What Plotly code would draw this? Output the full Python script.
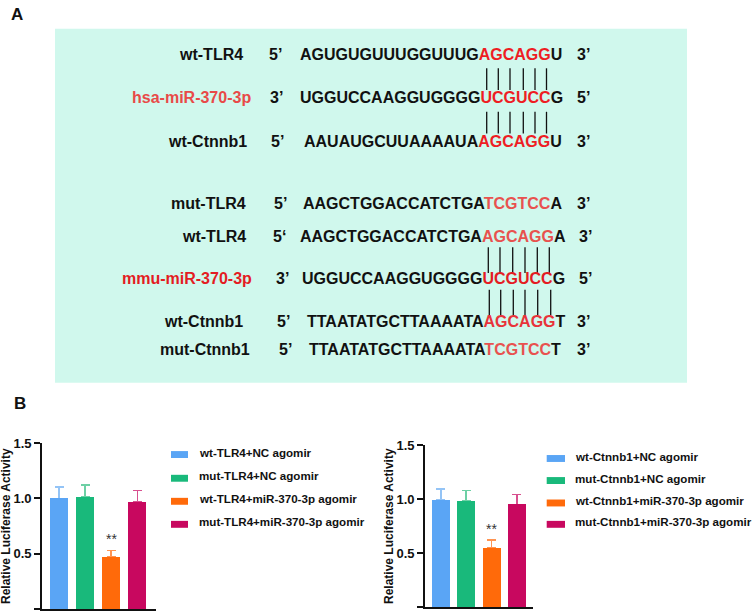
import plotly.graph_objects as go

W, H = 753, 614
FONT = "Arial, Liberation Sans, sans-serif"

# ---------------- data: panel B ----------------
tlr4_groups = ["wt-TLR4+NC agomir", "mut-TLR4+NC agomir",
               "wt-TLR4+miR-370-3p agomir", "mut-TLR4+miR-370-3p agomir"]
tlr4_mean = [1.00, 1.01, 0.47, 0.97]
tlr4_err = [0.10, 0.11, 0.06, 0.10]

ctnnb1_groups = ["wt-Ctnnb1+NC agomir", "mut-Ctnnb1+NC agomir",
                 "wt-Ctnnb1+miR-370-3p agomir", "mut-Ctnnb1+miR-370-3p agomir"]
ctnnb1_mean = [0.99, 0.98, 0.55, 0.95]
ctnnb1_err = [0.10, 0.10, 0.07, 0.09]

significance = ["", "", "**", ""]
y_ticks = [0, 0.5, 1.0, 1.5]
y_ticklabels = ["0.0", "0.5", "1.0", "1.5"]
y_title = "Relative Luciferase Activity"

# ---------------- data: panel A ----------------
row_labels = ["wt-TLR4", "hsa-miR-370-3p", "wt-Ctnnb1",
              "mut-TLR4", "wt-TLR4", "mmu-miR-370-3p", "wt-Ctnnb1", "mut-Ctnnb1"]
row_end5 = ["5\u2019", "3\u2019", "5\u2019", "5\u2019", "5\u2018", "3\u2019", "5\u2019", "5\u2019"]
row_end3 = ["3\u2019", "5\u2019", "3\u2019", "3\u2019", "3\u2019", "5\u2019", "3\u2019", "3\u2019"]
seq_prefix = ["AGUGUGUUUGGUUUG", "UGGUCCAAGGUGGGG", "AAUAUGCUUAAAAUA",
              "AAGCTGGACCATCTGA", "AAGCTGGACCATCTGA", "UGGUCCAAGGUGGGG",
              "TTAATATGCTTAAAATA", "TTAATATGCTTAAAATA"]
seq_site = ["AGCAGG", "UCGUCC", "AGCAGG", "TCGTCC", "AGCAGG", "UCGUCC", "AGCAGG", "TCGTCC"]
seq_suffix = ["U", "G", "U", "A", "A", "G", "T", "T"]

# ---------------- styles / positions (pixels) ----------------
def px(x):
    return x / W

def py(y):
    return 1 - y / H

label_colors = ["#111111", "#e84a48", "#111111", "#111111", "#111111", "#e31c23", "#111111", "#111111"]
site_colors = ["#ee1d23", "#ee1d23", "#ee1d23", "#e8524f", "#e8524f", "#e31c23", "#e8333a", "#e8524f"]
row_y = [51.7, 95, 139.3, 202.7, 235.7, 278.3, 321.7, 350]
label_right = [243, 250.7, 246.7, 245.7, 246, 252, 242.5, 250]
end5_left = [269, 270, 270.7, 274, 273.3, 276, 276.7, 279]
seq_left = [300, 300, 304, 302.7, 300, 301.7, 306.5, 309]
end3_left = [577, 577, 577, 576.7, 579, 579, 577, 576.7]
DY16 = -3.5   # text box centre vs. cap centre
DY12 = -2.5

pair_groups = [
    ([486.7, 498.3, 510, 523.3, 535, 546.5], 62, 84),
    ([486.7, 498.3, 510, 523.3, 535, 546.5], 106, 128),
    ([488.3, 500, 512.7, 525, 537.3, 549.3], 243, 269),
    ([489.3, 500.7, 513.3, 525, 537.7, 550.7], 286, 312),
]

bar_colors = ["#5aa5f5", "#19b97b", "#ff6a0a", "#c8085f"]
err_colors = ["#94c4f6", "#6dd0a5", "#ff9452", "#d8508f"]

fig = go.Figure()
annotations = []
shapes = []
NOPAD = dict(borderpad=0, borderwidth=0, showarrow=False, xref="paper", yref="paper")

# panel A box
shapes.append(dict(type="rect", xref="paper", yref="paper",
                   x0=px(55), x1=px(687), y0=py(380), y1=py(22),
                   fillcolor="#d0f8ed", line=dict(width=0), layer="below"))

txtfont = dict(family=FONT, size=16, color="#111111", weight="bold")
for i in range(len(row_labels)):
    yy = py(row_y[i] + DY16)
    annotations.append(dict(NOPAD, text=row_labels[i], x=px(label_right[i]), y=yy,
                            xanchor="right", yanchor="middle",
                            font=dict(txtfont, color=label_colors[i])))
    annotations.append(dict(NOPAD, text=row_end5[i], x=px(end5_left[i]), y=yy,
                            xanchor="left", yanchor="middle", font=txtfont))
    seq = (seq_prefix[i] + '<span style="color:%s">' % site_colors[i] + seq_site[i]
           + "</span>" + seq_suffix[i])
    annotations.append(dict(NOPAD, text=seq, x=px(seq_left[i]), y=yy,
                            xanchor="left", yanchor="middle", font=txtfont))
    annotations.append(dict(NOPAD, text=row_end3[i], x=px(end3_left[i]), y=yy,
                            xanchor="left", yanchor="middle", font=txtfont))

for xs, y0, y1 in pair_groups:
    for x in xs:
        shapes.append(dict(type="line", xref="paper", yref="paper",
                           x0=px(x), x1=px(x), y0=py(y1), y1=py(y0),
                           line=dict(color="#111111", width=1.3)))

# panel letters
for letter, x, y in [("A", 16.5, 11), ("B", 19.5, 405)]:
    annotations.append(dict(NOPAD, text=letter, x=px(x), y=py(y + DY16),
                            xanchor="center", yanchor="middle",
                            font=dict(family=FONT, size=17, color="#111111", weight="bold")))

# ---------------- panel B charts ----------------
charts = [
    dict(groups=tlr4_groups, mean=tlr4_mean, err=tlr4_err, xa="x", ya="y",
         xdom=(42, 156), ydom=(609, 441), xr=[-0.65, 3.71], bw=0.69,
         title_x=6, leg_sq=(171, 188), leg_txt=199, leg_y=[452.7, 476.7, 500, 523.3]),
    dict(groups=ctnnb1_groups, mean=ctnnb1_mean, err=ctnnb1_err, xa="x2", ya="y2",
         xdom=(425, 533), ydom=(607, 443), xr=[-0.62, 3.63], bw=0.71,
         title_x=389, leg_sq=(546.7, 565), leg_txt=575, leg_y=[456.7, 479, 501.7, 523.3]),
]

layout_axes = {}
for ci, c in enumerate(charts):
    for i, g in enumerate(c["groups"]):
        # holder trace carrying the error bar (drawn below the visible bar)
        fig.add_trace(go.Bar(x=[g], y=[c["mean"][i]], width=c["bw"], xaxis=c["xa"], yaxis=c["ya"],
                             marker=dict(color="rgba(0,0,0,0)", line=dict(width=0)),
                             error_y=dict(type="data", array=[c["err"][i]], arrayminus=[0],
                                          symmetric=False, color=err_colors[i],
                                          thickness=1.6, width=4.5),
                             showlegend=False, hoverinfo="skip"))
        fig.add_trace(go.Bar(x=[g], y=[c["mean"][i]], width=c["bw"], xaxis=c["xa"], yaxis=c["ya"],
                             marker=dict(color=bar_colors[i], line=dict(width=0)),
                             name=g, showlegend=False))
        if significance[i]:
            annotations.append(dict(text=significance[i], x=g, y=c["mean"][i] + c["err"][i],
                                    xref=c["xa"], yref=c["ya"], xanchor="center", yanchor="bottom",
                                    yshift=3, showarrow=False, borderpad=0, borderwidth=0,
                                    font=dict(family=FONT, size=14, color="#333333")))
        # manual legend
        ly = c["leg_y"][i]
        shapes.append(dict(type="rect", xref="paper", yref="paper",
                           x0=px(c["leg_sq"][0]), x1=px(c["leg_sq"][1]),
                           y0=py(ly + 3.5), y1=py(ly - 3.5),
                           fillcolor=bar_colors[i], line=dict(width=0)))
        annotations.append(dict(NOPAD, text=g, x=px(c["leg_txt"]), y=py(ly + DY12),
                                xanchor="left", yanchor="middle",
                                font=dict(family=FONT, size=11.6, color="#111111", weight="bold")))

    # y title
    annotations.append(dict(NOPAD, text=y_title, x=px(c["title_x"]), y=py(525),
                            xanchor="center", yanchor="middle", textangle=-90,
                            font=dict(family=FONT, size=12, color="#111111", weight="bold")))

    xkey = "xaxis" if ci == 0 else "xaxis2"
    ykey = "yaxis" if ci == 0 else "yaxis2"
    layout_axes[xkey] = dict(domain=[px(c["xdom"][0]), px(c["xdom"][1])], range=c["xr"],
                             anchor=c["ya"], showline=True, linecolor="#111111", linewidth=1.6,
                             ticks="", showticklabels=False, showgrid=False, zeroline=False,
                             fixedrange=True)
    layout_axes[ykey] = dict(domain=[py(c["ydom"][0]), py(c["ydom"][1])], range=[0, 1.5],
                             anchor=c["xa"], showline=True, linecolor="#111111", linewidth=1.6,
                             ticks="outside", ticklen=6, tickwidth=1.6, tickcolor="#111111",
                             tickvals=y_ticks, ticktext=y_ticklabels,
                             tickfont=dict(family=FONT, size=13, color="#111111", weight="bold"),
                             showgrid=False, zeroline=False, fixedrange=True)

fig.update_layout(
    width=W, height=H, autosize=False,
    margin=dict(l=0, r=0, t=0, b=0, pad=0),
    paper_bgcolor="white", plot_bgcolor="rgba(0,0,0,0)",
    barmode="overlay", bargap=0,
    showlegend=False,
    annotations=annotations, shapes=shapes,
    **layout_axes,
)

fig.write_html("out.html", config={"displayModeBar": False},
               post_script="document.body.style.margin='0';document.body.style.overflow='hidden';")
